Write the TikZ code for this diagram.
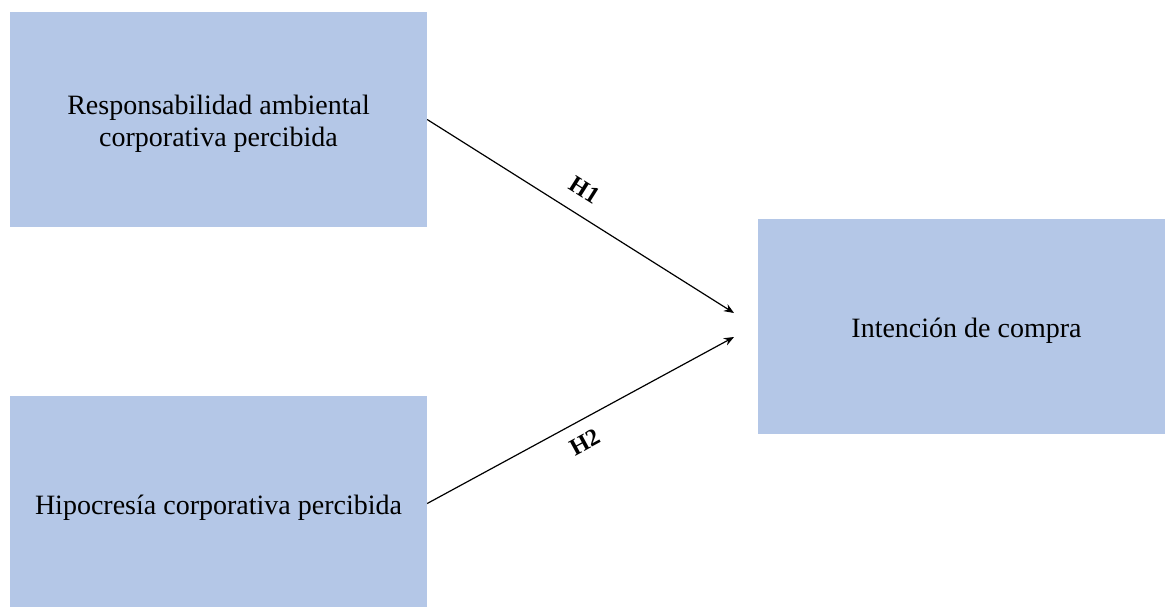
\documentclass[tikz,border=0pt]{standalone}
\usepackage{fontspec}
\setmainfont{Liberation Serif}
\usetikzlibrary{arrows.meta}
\definecolor{boxblue}{HTML}{B4C7E7}
\newcommand{\lowtext}[1]{\raisebox{-5pt}[\height][\depth]{\begin{tabular}{@{}c@{}}#1\end{tabular}}}
\begin{document}
\begin{tikzpicture}[x=1pt,y=-1pt,
  box/.style={fill=boxblue, draw=none, minimum width=417pt, minimum height=215pt, inner sep=0pt, font=\fontsize{28}{32}\selectfont},
  conn/.style={line width=1.2pt, -{Stealth[length=10pt,width=8pt]}},
  hlab/.style={font=\fontsize{24}{28}\selectfont\bfseries, sloped, inner sep=2pt}]
\useasboundingbox[fill=white] (0,0) rectangle (1165,606);
\node[box] (tl) at (218.5,119.5) {\lowtext{Responsabilidad ambiental\\corporativa percibida}};
\node[box] (bl) at (218.5,503.5) {\lowtext{Hipocresía corporativa percibida}};
\node[box] (r) at (966.5,326) {\lowtext{Intención de compra}};
\coordinate (t1) at (734,313);
\coordinate (t2) at (734,337);
\draw[conn] (tl.east) -- node[hlab, above=14pt, pos=0.47] (h1) {H1} (t1);
\draw[conn] (bl.east) -- node[hlab, below=11pt, pos=0.48] (h2) {H2} (t2);
\end{tikzpicture}
\end{document}
